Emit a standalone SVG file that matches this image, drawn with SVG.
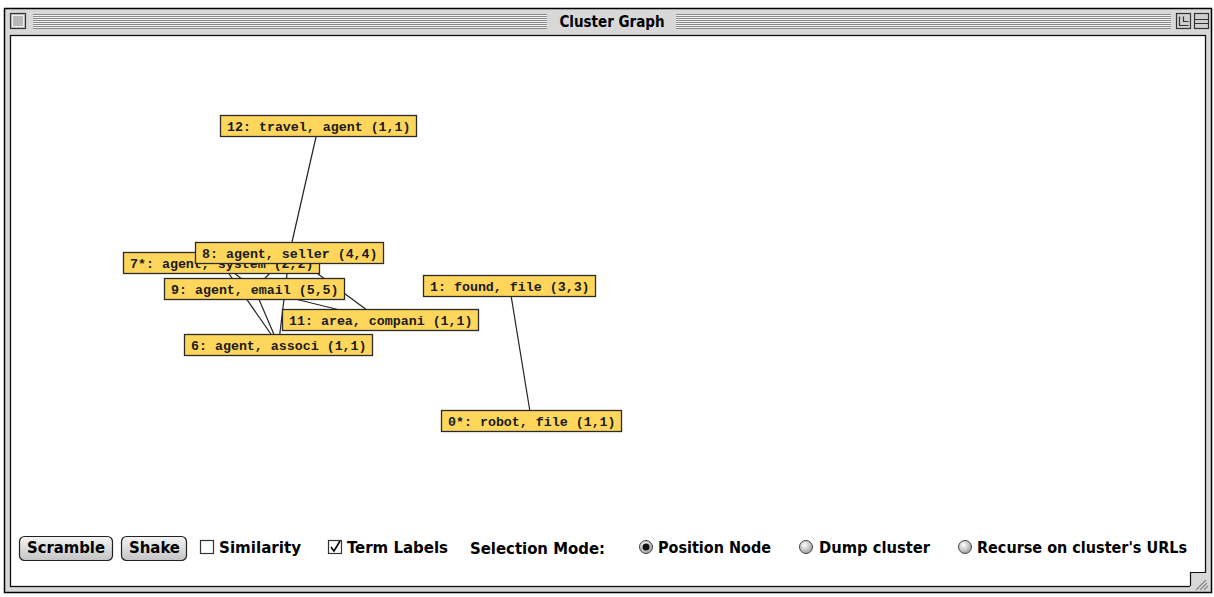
<svg xmlns="http://www.w3.org/2000/svg" width="1214" height="597" viewBox="0 0 1214 597">
<defs>
<linearGradient id="btn" x1="0" y1="0" x2="0" y2="1"><stop offset="0" stop-color="#f4f4f4"/><stop offset="1" stop-color="#c4c4c4"/></linearGradient>
<radialGradient id="rad" cx="0.4" cy="0.35" r="0.7"><stop offset="0" stop-color="#ffffff"/><stop offset="1" stop-color="#9a9a9a"/></radialGradient>
<pattern id="stripes" width="4" height="2" patternUnits="userSpaceOnUse"><rect width="4" height="1" fill="#8a8a8a"/><rect y="1" width="4" height="1" fill="#f2f2f2"/></pattern>
<style>
.node rect{fill:#FFD65C;stroke:#2a2a2a;stroke-width:1.3}
.node text{font-family:"Liberation Mono","DejaVu Sans Mono",monospace;font-size:13.3px;font-weight:bold;fill:#1a1a1a}
.edges line{stroke:#222;stroke-width:1.2}
.ui{font-family:"DejaVu Sans Condensed","Liberation Sans",sans-serif;font-weight:bold;font-size:15px;fill:#000}
.btn{fill:url(#btn);stroke:#222;stroke-width:1.2}
.cb{fill:#fff;stroke:#333;stroke-width:1.2}
.rb{fill:url(#rad);stroke:#444;stroke-width:1}
</style>
</defs>
<!-- window frame -->
<rect x="4.5" y="8.5" width="1207" height="584" fill="#d8d8d8" stroke="#000" stroke-width="1.5"/>
<rect x="10.5" y="35.5" width="1195" height="551" fill="#fff" stroke="#111" stroke-width="1.3"/>
<!-- title bar -->
<rect x="33" y="14" width="514" height="15" fill="url(#stripes)"/>
<rect x="676" y="14" width="495" height="15" fill="url(#stripes)"/>
<text x="612" y="27" text-anchor="middle" class="ui" style="font-size:15px">Cluster Graph</text>
<rect x="10.5" y="13.5" width="15" height="15" fill="#c8c8c8" stroke="#333" stroke-width="1.2"/>
<rect x="12.5" y="15.5" width="11" height="11" fill="#b8b8b8" stroke="#eee" stroke-width="1"/>
<rect x="1176.5" y="13.5" width="14" height="15" fill="#d0d0d0" stroke="#333" stroke-width="1.2"/>
<path d="M1179.5 16.5v9h9M1183.5 16.5v5h5" fill="none" stroke="#333" stroke-width="1.2"/>
<rect x="1194.5" y="13.5" width="14" height="15" fill="#d0d0d0" stroke="#333" stroke-width="1.2"/>
<path d="M1194.5 19.5h14M1194.5 23.5h14" fill="none" stroke="#333" stroke-width="1.2"/>
<!-- grow box -->
<rect x="1190" y="573" width="20" height="18" fill="#d8d8d8"/>
<path d="M1190.5 586v-13.5h15" fill="none" stroke="#111" stroke-width="1.2"/>
<path d="M1196 590l10-10M1200 590l7-7M1204 590l4-4" stroke="#888" stroke-width="1.2"/>
<!-- connectors -->
<g id="connectors" class="edges">
<line x1="318.5" y1="126" x2="289.5" y2="253"/>
<line x1="221.5" y1="263" x2="278.5" y2="345"/>
<line x1="221.5" y1="263" x2="254.5" y2="289"/>
<line x1="289.5" y1="253" x2="254.5" y2="289"/>
<line x1="289.5" y1="253" x2="278.5" y2="345"/>
<line x1="289.5" y1="253" x2="380.5" y2="320"/>
<line x1="254.5" y1="289" x2="278.5" y2="345"/>
<line x1="254.5" y1="289" x2="380.5" y2="320"/>
<line x1="509.5" y1="286" x2="531.5" y2="421"/>
</g>
<!-- nodes -->
<g id="node12" class="node"><rect x="220.5" y="115.5" width="196" height="21"/><text x="227" y="130.5">12: travel, agent (1,1)</text></g>
<g id="node7" class="node"><rect x="123.5" y="252.5" width="196" height="21"/><text x="130" y="267.5">7*: agent, system (2,2)</text></g>
<g id="node8" class="node"><rect x="195.5" y="242.5" width="188" height="21"/><text x="202" y="257.5">8: agent, seller (4,4)</text></g>
<g id="node9" class="node"><rect x="164.5" y="278.5" width="180" height="21"/><text x="171" y="293.5">9: agent, email (5,5)</text></g>
<g id="node11" class="node"><rect x="282.5" y="309.5" width="196" height="21"/><text x="289" y="324.5">11: area, compani (1,1)</text></g>
<g id="node6" class="node"><rect x="184.5" y="334.5" width="188" height="21"/><text x="191" y="349.5">6: agent, associ (1,1)</text></g>
<g id="node1" class="node"><rect x="423.5" y="275.5" width="172" height="21"/><text x="430" y="290.5">1: found, file (3,3)</text></g>
<g id="node0" class="node"><rect x="441.5" y="410.5" width="180" height="21"/><text x="448" y="425.5">0*: robot, file (1,1)</text></g>
<!-- controls -->
<g id="controls">
<rect x="19.5" y="536.5" width="93" height="24" rx="5" class="btn"/>
<text x="27" y="553" class="ui" textLength="78" lengthAdjust="spacingAndGlyphs">Scramble</text>
<rect x="121.5" y="536.5" width="65" height="24" rx="5" class="btn"/>
<text x="129" y="553" class="ui" textLength="51" lengthAdjust="spacingAndGlyphs">Shake</text>
<rect x="200.5" y="540.5" width="13" height="13" class="cb"/>
<text x="219" y="553" class="ui" textLength="82" lengthAdjust="spacingAndGlyphs">Similarity</text>
<rect x="328.5" y="540.5" width="13" height="13" class="cb"/>
<path d="M331 547l3 4l6-10" fill="none" stroke="#000" stroke-width="1.6"/>
<text x="347" y="553" class="ui" textLength="101" lengthAdjust="spacingAndGlyphs">Term Labels</text>
<text x="470" y="554" class="ui" textLength="135" lengthAdjust="spacingAndGlyphs">Selection Mode:</text>
<circle cx="646" cy="547" r="6.5" class="rb"/>
<circle cx="646" cy="547" r="3.5" fill="#111"/>
<text x="658" y="553" class="ui" textLength="113" lengthAdjust="spacingAndGlyphs">Position Node</text>
<circle cx="806" cy="547" r="6.5" class="rb"/>
<text x="819" y="553" class="ui" textLength="111" lengthAdjust="spacingAndGlyphs">Dump cluster</text>
<circle cx="965" cy="547" r="6.5" class="rb"/>
<text x="977" y="553" class="ui" textLength="210" lengthAdjust="spacingAndGlyphs">Recurse on cluster's URLs</text>
</g>
</svg>
